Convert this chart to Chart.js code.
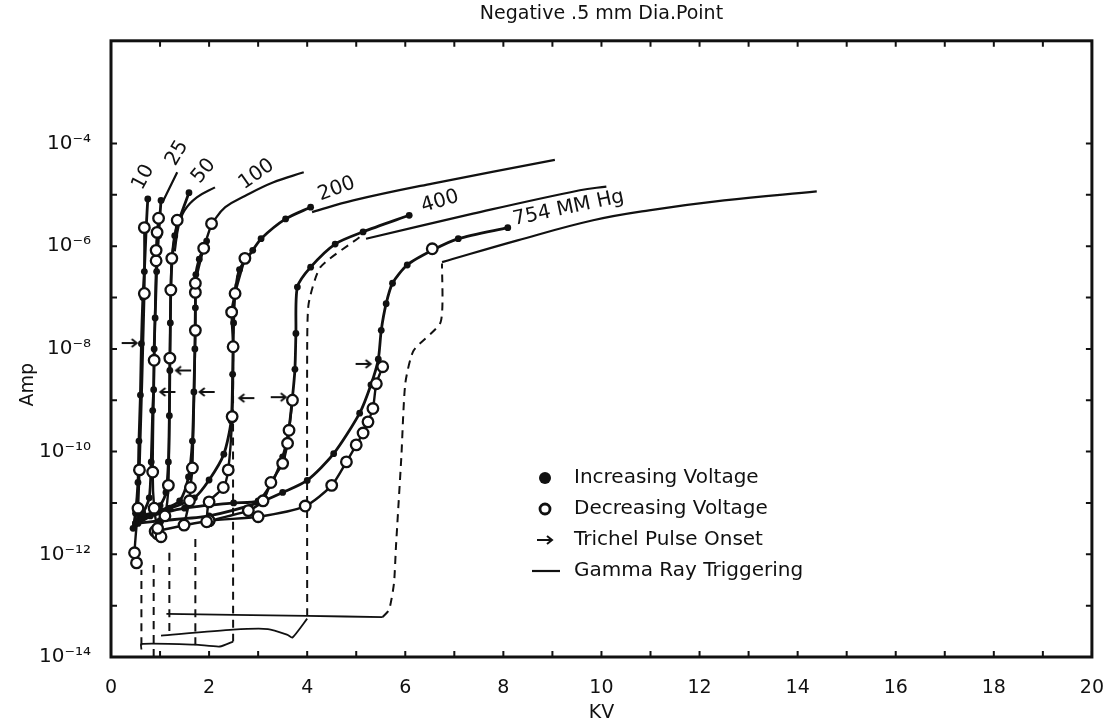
<!DOCTYPE html>
<html>
<head>
<meta charset="utf-8">
<script src="https://cdn.jsdelivr.net/npm/chart.js@4.4.1/dist/chart.umd.min.js"></script>
<style>
  html, body { margin: 0; padding: 0; background: #fff; }
</style>
</head>
<body>
<canvas id="plot" width="1116" height="726"></canvas>
<script>
// [KV, Amp]
// increasing voltage (filled dots) and decreasing voltage (open circles), per pressure in mm Hg
const inc10 = [[0.45,3.2e-12],[0.5,6.3e-12],[0.55,2.5e-11],[0.57,1.6e-10],[0.6,1.26e-9],[0.62,1.26e-8],[0.65,1e-7],[0.68,3.2e-7],[0.72,2.5e-6],[0.75,8.3e-6]];
const dec10 = [[0.52,6.8e-13],[0.48,1.07e-12],[0.55,7.9e-12],[0.58,4.4e-11],[0.68,1.2e-7],[0.68,2.3e-6]];
const inc25 = [[0.5,4e-12],[0.65,6.3e-12],[0.78,1.26e-11],[0.82,6.3e-11],[0.85,6.3e-10],[0.87,1.6e-9],[0.88,1e-8],[0.9,4e-8],[0.93,3.2e-7],[0.97,1.6e-6],[1.02,7.8e-6]];
const dec25 = [[1.02,2.2e-12],[0.95,3.2e-12],[0.88,7.9e-12],[0.85,4e-11],[0.88,6e-9],[0.92,5.2e-7],[0.92,8.3e-7],[0.94,1.86e-6],[0.97,3.5e-6]];
const inc50 = [[0.55,4e-12],[0.8,5.6e-12],[1.0,8.9e-12],[1.12,1.6e-11],[1.17,6.3e-11],[1.19,5e-10],[1.2,3.8e-9],[1.21,3.2e-8],[1.22,1.4e-7],[1.25,6.3e-7],[1.3,1.6e-6],[1.4,3.5e-6],[1.59,1.1e-5]];
const dec50 = [[0.95,2.5e-12],[1.1,5.6e-12],[1.17,2.2e-11],[1.2,6.6e-9],[1.22,1.4e-7],[1.24,5.8e-7],[1.35,3.2e-6]];
const inc100 = [[0.6,5e-12],[1.0,7.1e-12],[1.4,1.1e-11],[1.58,3.2e-11],[1.66,1.6e-10],[1.69,1.45e-9],[1.71,1e-8],[1.72,6.3e-8],[1.73,2.8e-7],[1.8,5.6e-7],[1.95,1.26e-6]];
const dec100 = [[1.49,3.7e-12],[1.6,1.1e-11],[1.62,2e-11],[1.66,4.8e-11],[1.72,2.3e-8],[1.72,1.26e-7],[1.72,1.9e-7],[1.89,9.1e-7],[2.05,2.75e-6]];
const inc200 = [[0.6,5.6e-12],[1.2,7.9e-12],[1.7,1.26e-11],[2.0,2.8e-11],[2.3,8.9e-11],[2.45,4e-10],[2.48,3.2e-9],[2.5,3.2e-8],[2.53,1.2e-7],[2.62,3.5e-7],[2.89,8.3e-7],[3.06,1.4e-6],[3.56,3.4e-6],[4.07,5.75e-6]];
const dec200 = [[1.95,4.3e-12],[2.0,1.05e-11],[2.29,2e-11],[2.39,4.4e-11],[2.47,4.8e-10],[2.49,1.1e-8],[2.46,5.2e-8],[2.53,1.2e-7],[2.73,5.8e-7]];
const inc400 = [[0.6,5e-12],[1.5,7.9e-12],[2.5,1e-11],[3.0,1.1e-11],[3.28,2.5e-11],[3.5,7.9e-11],[3.62,2.5e-10],[3.7,1.15e-9],[3.75,4e-9],[3.77,2e-8],[3.8,1.6e-7],[4.07,3.9e-7],[4.57,1.1e-6],[5.14,1.9e-6],[6.08,4e-6]];
const dec400 = [[2.0,4.5e-12],[2.8,7.1e-12],[3.1,1.1e-11],[3.26,2.5e-11],[3.5,5.9e-11],[3.6,1.45e-10],[3.63,2.6e-10],[3.7,1e-9]];
const inc754 = [[0.5,4e-12],[1.0,4.5e-12],[2.0,5.6e-12],[3.0,1e-11],[3.5,1.6e-11],[4.0,2.75e-11],[4.54,9.1e-11],[5.07,5.6e-10],[5.3,2e-9],[5.45,6.3e-9],[5.51,2.3e-8],[5.61,7.6e-8],[5.74,1.9e-7],[6.04,4.3e-7],[6.55,8.3e-7],[7.08,1.4e-6],[8.09,2.3e-6]];
const dec754 = [[0.9,2.8e-12],[2.0,4.5e-12],[3.0,5.4e-12],[3.96,8.7e-12],[4.5,2.2e-11],[4.8,6.3e-11],[5.0,1.35e-10],[5.14,2.3e-10],[5.24,3.8e-10],[5.34,6.9e-10],[5.41,2.1e-9],[5.54,4.5e-9]];
const openTop754 = [[6.55,8.9e-7]];

// gamma ray triggering (thin solid)
const gamma25 = [[1.05,7.2e-6],[1.2,1.4e-5],[1.35,2.75e-5]];
const gamma50 = [[1.3,7.9e-7],[1.38,2.5e-6],[1.5,5e-6],[1.75,8.9e-6],[2.12,1.4e-5]];
const gamma100 = [[2.05,2.75e-6],[2.33,5.75e-6],[2.73,9.5e-6],[3.3,1.74e-5],[3.93,2.75e-5]];
const gamma200 = [[4.1,4.6e-6],[4.94,7.8e-6],[6.55,1.66e-5],[9.05,4.8e-5]];
const gamma400 = [[5.2,1.4e-6],[7.38,4.3e-6],[9.56,1.23e-5],[10.1,1.45e-5]];
const gamma754 = [[6.75,4.9e-7],[8.29,1.3e-6],[9.83,3.2e-6],[10.97,5e-6],[12.5,7.8e-6],[14.39,1.17e-5]];

// dashed curves
const dash10 = [[0.62,1.7e-14],[0.62,5e-13]];
const dash25 = [[0.87,1e-14],[0.87,7.9e-13]];
const dash50 = [[1.19,3.2e-14],[1.19,1.26e-12]];
const dash100 = [[1.72,1.7e-14],[1.72,2.5e-12]];
const dash200 = [[2.49,2e-14],[2.49,1e-8],[2.51,1e-7],[2.57,2.5e-7],[2.73,5.2e-7]];
const dash400 = [[4.0,6.3e-14],[4.0,1e-8],[4.03,7.6e-8],[4.27,3.9e-7],[5.07,1.5e-6]];
const dash754 = [[5.54,6e-14],[5.67,8.3e-14],[5.77,2.75e-13],[5.81,1.4e-12],[5.92,7.9e-11],[6.0,2.1e-9],[6.17,9.3e-9],[6.72,3.3e-8],[6.75,4.6e-7]];

// thin base lines near 1e-13
const baseA = [[1.13,6.9e-14],[2.5,6.6e-14],[4.0,6.3e-14],[5.54,6e-14]];
const baseB = [[1.02,2.6e-14],[2.49,3.4e-14],[3.2,3.5e-14],[3.6,2.7e-14],[3.7,2.4e-14],[4.0,5.6e-14]];
const baseC = [[0.62,1.4e-14],[0.62,1.8e-14],[1.72,1.74e-14],[2.22,1.6e-14],[2.49,2e-14]];

// Trichel pulse onset arrows
const arrowsRight = [[0.38,1.3e-8],[3.42,1.15e-9],[5.15,5.1e-9]];
const arrowsLeft = [[1.15,1.45e-9],[1.47,3.8e-9],[1.95,1.45e-9],[2.76,1.1e-9]];

// axis ticks
const xTickLabels = ["0","","2","","4","","6","","8","","10","","12","","14","","16","","18","","20"];
const yTickValues = [1e-14,1e-13,1e-12,1e-11,1e-10,1e-9,1e-8,1e-7,1e-6,1e-5,1e-4];
const yTickLabels = ["10\u207B\u00B9\u2074","","10\u207B\u00B9\u00B2","","10\u207B\u00B9\u2070","","10\u207B\u2078","","10\u207B\u2076","","10\u207B\u2074"];

// pressure labels along the curves
const curveLabels = [
  { text: "10", kv: 0.66, amp: 2.2e-5, angle: -62 },
  { text: "25", kv: 1.35, amp: 6.5e-5, angle: -60 },
  { text: "50", kv: 1.89, amp: 2.9e-5, angle: -50 },
  { text: "100", kv: 2.97, amp: 2.5e-5, angle: -35 },
  { text: "200", kv: 4.6, amp: 1.3e-5, angle: -20 },
  { text: "400", kv: 6.71, amp: 7.4e-6, angle: -17 },
  { text: "754 MM Hg", kv: 9.33, amp: 5.5e-6, angle: -12 },
];

const INK = "#111";
const FONT = "'DejaVu Sans', sans-serif";

let pts = (arr) => arr.map((p) => ({ x: p[0], y: p[1] }));

let incSet = (label, arr) => ({
  label, data: pts(arr), showLine: true, borderColor: INK, borderWidth: 2.8,
  pointRadius: 3.4, pointBackgroundColor: INK, pointBorderWidth: 0, tension: 0.25,
});
let decSet = (label, arr) => ({
  label, data: pts(arr), showLine: true, borderColor: INK, borderWidth: 2.4,
  pointRadius: 5.3, pointBackgroundColor: "#fff", pointBorderColor: INK, pointBorderWidth: 2.3, tension: 0.25,
});
let gammaSet = (label, arr) => ({
  label, data: pts(arr), showLine: true, borderColor: INK, borderWidth: 2.2,
  pointRadius: 0, tension: 0.4,
});
let dashSet = (label, arr) => ({
  label, data: pts(arr), showLine: true, borderColor: INK, borderWidth: 2,
  borderDash: [8, 6], pointRadius: 0, tension: 0.2,
});
let baseSet = (label, arr) => ({
  label, data: pts(arr), showLine: true, borderColor: INK, borderWidth: 1.8,
  pointRadius: 0, tension: 0.2,
});

let makeArrow = (dir) => {
  let c = document.createElement("canvas");
  c.width = 20; c.height = 12;
  let g = c.getContext("2d");
  g.strokeStyle = INK; g.lineWidth = 2;
  g.beginPath();
  if (dir > 0) { g.moveTo(2, 6); g.lineTo(17, 6); g.moveTo(12, 2); g.lineTo(17, 6); g.lineTo(12, 10); }
  else { g.moveTo(18, 6); g.lineTo(3, 6); g.moveTo(8, 2); g.lineTo(3, 6); g.lineTo(8, 10); }
  g.stroke();
  return c;
};
let arrowR = makeArrow(1);
let arrowL = makeArrow(-1);

// frame with inward ticks, the y title, curve labels and the legend box
const decorPlugin = {
  id: "decor",
  afterDatasetsDraw(chart) {
    let { ctx, chartArea: a, scales } = chart;
    ctx.save();
    ctx.strokeStyle = INK;
    ctx.lineWidth = 2;
    ctx.beginPath();
    scales.x.ticks.forEach((t) => {
      let px = scales.x.getPixelForValue(t.value);
      ctx.moveTo(px, a.bottom); ctx.lineTo(px, a.bottom - 6);
      ctx.moveTo(px, a.top); ctx.lineTo(px, a.top + 6);
    });
    scales.y.ticks.forEach((t) => {
      let py = scales.y.getPixelForValue(t.value);
      ctx.moveTo(a.left, py); ctx.lineTo(a.left + 6, py);
      ctx.moveTo(a.right, py); ctx.lineTo(a.right - 6, py);
    });
    ctx.stroke();
    ctx.lineWidth = 3;
    ctx.strokeRect(a.left, a.top, a.right - a.left, a.bottom - a.top);

    ctx.fillStyle = INK;
    ctx.textAlign = "center";
    ctx.textBaseline = "middle";

    // y axis title, sitting a bit below the middle of the axis as in the scan
    ctx.font = "19px " + FONT;
    ctx.save();
    ctx.translate(28, scales.y.getPixelForValue(2e-9));
    ctx.rotate(-Math.PI / 2);
    ctx.fillText("Amp", 0, 0);
    ctx.restore();

    // labels on the curves
    ctx.font = "20px " + FONT;
    curveLabels.forEach((l) => {
      ctx.save();
      ctx.translate(scales.x.getPixelForValue(l.kv), scales.y.getPixelForValue(l.amp));
      ctx.rotate((l.angle * Math.PI) / 180);
      ctx.fillText(l.text, 0, 0);
      ctx.restore();
    });

    // legend
    let lx = 545, tx = 574, rows = [478, 509, 540, 571];
    ctx.textAlign = "left";
    ctx.beginPath(); ctx.arc(lx, rows[0], 6, 0, Math.PI * 2); ctx.fill();
    ctx.lineWidth = 2.8;
    ctx.beginPath(); ctx.arc(lx, rows[1], 5, 0, Math.PI * 2); ctx.stroke();
    ctx.drawImage(arrowR, lx - 10, rows[2] - 6);
    ctx.lineWidth = 2.2;
    ctx.beginPath(); ctx.moveTo(532, rows[3]); ctx.lineTo(560, rows[3]); ctx.stroke();
    ["Increasing Voltage", "Decreasing Voltage", "Trichel Pulse Onset", "Gamma Ray Triggering"]
      .forEach((s, i) => ctx.fillText(s, tx, rows[i]));
    ctx.restore();
  },
};

Chart.defaults.font.family = FONT;
Chart.defaults.color = INK;

let plotRef = document.getElementById("plot");

let config = {
  type: "scatter",
  data: {
    datasets: [
      decSet("dec 10", dec10), decSet("dec 25", dec25), decSet("dec 50", dec50),
      decSet("dec 100", dec100), decSet("dec 200", dec200), decSet("dec 400", dec400),
      decSet("dec 754", dec754),
      { ...decSet("dec 754 top", openTop754), showLine: false },
      incSet("inc 10", inc10), incSet("inc 25", inc25), incSet("inc 50", inc50),
      incSet("inc 100", inc100), incSet("inc 200", inc200), incSet("inc 400", inc400),
      incSet("inc 754", inc754),
      gammaSet("gamma 25", gamma25), gammaSet("gamma 50", gamma50), gammaSet("gamma 100", gamma100),
      gammaSet("gamma 200", gamma200), gammaSet("gamma 400", gamma400), gammaSet("gamma 754", gamma754),
      dashSet("dash 10", dash10), dashSet("dash 25", dash25), dashSet("dash 50", dash50),
      dashSet("dash 100", dash100), dashSet("dash 200", dash200), dashSet("dash 400", dash400),
      dashSet("dash 754", dash754),
      baseSet("base A", baseA), baseSet("base B", baseB), baseSet("base C", baseC),
      { label: "onset right", data: pts(arrowsRight), pointStyle: arrowR, pointRadius: 10 },
      { label: "onset left", data: pts(arrowsLeft), pointStyle: arrowL, pointRadius: 10 },
    ],
  },
  options: {
    responsive: false,
    animation: false,
    layout: { padding: { left: 0, right: 10, top: 0, bottom: 0 } },
    plugins: {
      legend: { display: false },
      tooltip: { enabled: false },
      title: {
        display: true,
        text: "Negative .5 mm Dia.Point",
        fullSize: false,
        font: { size: 19, weight: "normal" },
        padding: { top: 3, bottom: 15 },
      },
    },
    scales: {
      x: {
        type: "linear",
        min: 0,
        max: 20,
        afterFit: (scale) => { scale.height = 69; },
        ticks: {
          stepSize: 1,
          autoSkip: false,
          maxRotation: 0,
          padding: 12,
          font: { size: 19 },
          callback: (value, index) => xTickLabels[index],
        },
        grid: { display: false },
        border: { display: false },
        title: { display: true, text: "KV", font: { size: 19 }, padding: { top: 0, bottom: 2 } },
      },
      y: {
        type: "logarithmic",
        min: 1e-14,
        max: 1e-2,
        afterFit: (scale) => { scale.width = 111; },
        afterBuildTicks: (scale) => { scale.ticks = yTickValues.map((v) => ({ value: v })); },
        ticks: {
          autoSkip: false,
          padding: 12,
          font: { size: 20 },
          callback: (value, index) => yTickLabels[index],
        },
        grid: { display: false },
        border: { display: false },
        title: { display: false, text: "Amp" },
      },
    },
  },
  plugins: [decorPlugin],
};

let chart = new Chart(plotRef, config);
</script>
</body>
</html>
